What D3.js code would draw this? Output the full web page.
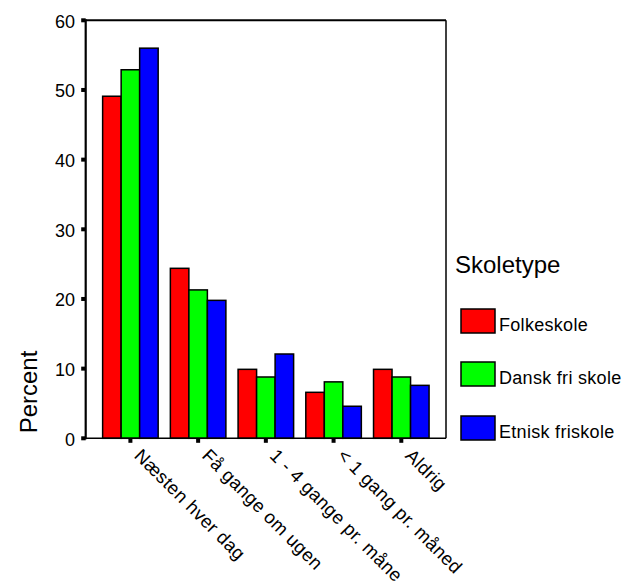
<!DOCTYPE html>
<html>
<head>
<meta charset="utf-8">
<script src="https://cdn.jsdelivr.net/npm/d3@7"></script>
<style>
  html, body { margin: 0; padding: 0; background: #fff; }
  svg { display: block; font-family: Arial, "Liberation Sans", Helvetica, sans-serif; }
</style>
</head>
<body>
<svg id="chart" width="627" height="585"></svg>
<script>
// Frequency categories on the x axis
const categories = ["Næsten hver dag", "Få gange om ugen", "1 - 4 gange pr. måne", "< 1 gang pr. måned", "Aldrig"];
// School types (series)
const series = ["Folkeskole", "Dansk fri skole", "Etnisk friskole"];
const colors = ["#ff0000", "#00ff00", "#0000ff"];
// Percent per category, one array per school type
const folkeskole = [49.1, 24.4, 9.9, 6.6, 9.9];
const danskFriSkole = [52.9, 21.3, 8.8, 8.1, 8.8];
const etniskFriskole = [56.0, 19.8, 12.1, 4.6, 7.6];
const yTicks = [0, 10, 20, 30, 40, 50, 60];

const values = [folkeskole, danskFriSkole, etniskFriskole];

const svg = d3.select("#chart");
const plotLeft = 85.7, plotRight = 446, plotTop = 20.3, plotBottom = 438.3;

const y = d3.scaleLinear().domain([0, 60]).range([plotBottom, plotTop]);
const x = d3.scaleBand().domain(categories).range([plotLeft, plotRight])
  .paddingInner(0.18).paddingOuter(0.25);
const xs = d3.scaleBand().domain(series).range([0, x.bandwidth()]);

// Bars
const groups = svg.append("g").selectAll("g")
  .data(categories)
  .join("g")
  .attr("transform", d => `translate(${x(d)},0)`);

groups.selectAll("rect")
  .data((d, i) => series.map((s, j) => ({ s, v: values[j][i], c: colors[j] })))
  .join("rect")
  .attr("x", d => xs(d.s))
  .attr("width", xs.bandwidth())
  .attr("y", d => y(d.v))
  .attr("height", d => y(0) - y(d.v))
  .attr("fill", d => d.c)
  .attr("stroke", "#000")
  .attr("stroke-width", 1.5);

// Frame
svg.append("line").attr("x1", plotLeft).attr("x2", plotRight).attr("y1", plotTop).attr("y2", plotTop)
  .attr("stroke", "#000").attr("stroke-width", 2);
svg.append("line").attr("x1", plotRight).attr("x2", plotRight).attr("y1", plotTop).attr("y2", plotBottom)
  .attr("stroke", "#000").attr("stroke-width", 1.5);
svg.append("line").attr("x1", plotLeft).attr("x2", plotRight).attr("y1", plotBottom).attr("y2", plotBottom)
  .attr("stroke", "#000").attr("stroke-width", 1.5);
svg.append("line").attr("x1", plotLeft).attr("x2", plotLeft).attr("y1", plotTop - 1).attr("y2", plotBottom + 1)
  .attr("stroke", "#000").attr("stroke-width", 2.2);

// Y axis ticks and labels
const yAxis = svg.append("g");
yAxis.selectAll("rect").data(yTicks).join("rect")
  .attr("x", plotLeft - 4.5).attr("width", 4.5)
  .attr("y", d => y(d) - 2).attr("height", 4)
  .attr("fill", "#000");
yAxis.selectAll("text").data(yTicks).join("text")
  .attr("x", 75).attr("y", d => y(d) + 7.5)
  .attr("text-anchor", "end")
  .attr("font-size", 18)
  .text(d => d);

// X axis ticks and rotated labels
const xAxis = svg.append("g");
xAxis.selectAll("rect").data(categories).join("rect")
  .attr("x", d => x(d) + x.bandwidth() / 2 - 2).attr("width", 4)
  .attr("y", plotBottom + 0.5).attr("height", 4)
  .attr("fill", "#000");
xAxis.selectAll("text").data(categories).join("text")
  .attr("transform", d => `translate(${x(d) + x.bandwidth() / 2},${plotBottom}) rotate(45)`)
  .attr("x", 15).attr("y", 11)
  .attr("font-size", 18.5)
  .attr("letter-spacing", 0.4)
  .text(d => d);

// Y axis title
svg.append("text")
  .attr("transform", "translate(37,392) rotate(-90)")
  .attr("text-anchor", "middle")
  .attr("font-size", 24)
  .text("Percent");

// Legend
const legend = svg.append("g");
legend.append("text").attr("x", 455).attr("y", 273).attr("font-size", 24).text("Skoletype");
const legendTop = [309, 362, 416];
const items = legend.selectAll("g.item").data(series).join("g").attr("class", "item")
  .attr("transform", (d, i) => `translate(461,${legendTop[i]})`);
items.append("rect").attr("width", 34).attr("height", 24)
  .attr("fill", (d, i) => colors[i]).attr("stroke", "#000").attr("stroke-width", 1.5);
items.append("text").attr("x", 38).attr("y", 21.5).attr("font-size", 18)
  .attr("letter-spacing", 0.3).text(d => d);
</script>
</body>
</html>
